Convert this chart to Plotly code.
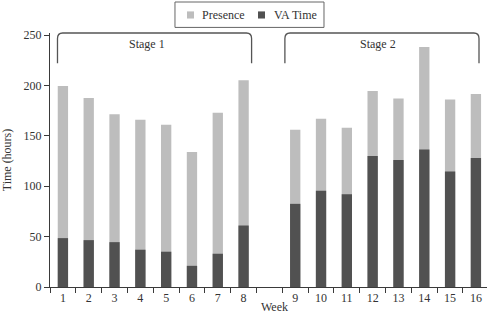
import plotly.graph_objects as go

# ---- data ----
weeks = ["1", "2", "3", "4", "5", "6", "7", "8",
         "9", "10", "11", "12", "13", "14", "15", "16"]
presence_hours = [199.5, 187.5, 171.5, 166, 161, 134, 173, 205,
                  156, 167, 158, 194.5, 187, 238, 186, 191.5]
va_time_hours = [48.5, 46.5, 44.5, 37, 35, 21, 33, 61,
                 82.5, 95.5, 92, 130, 126, 136.5, 114.5, 128]
series_names = ["Presence", "VA Time"]
stage_labels = ["Stage 1", "Stage 2"]
y_tick_values = [0, 50, 100, 150, 200, 250]
x_title = "Week"
y_title = "Time (hours)"

# ---- layout helpers ----
GAP_AFTER = 8  # an empty slot separates the two stages
pos = [i if i < GAP_AFTER else i + 1 for i in range(len(weeks))]
boundaries = [k - 0.5 for k in range(len(weeks) + 2)]

FONT = "Liberation Serif"
TXT = "#333333"
LIGHT = "#bdbdbd"
DARK = "#515151"
AXIS = "#3a3a3a"
BAR_W = 0.4
colors = [LIGHT, DARK]

fig = go.Figure()
for vals, name, col in zip([presence_hours, va_time_hours], series_names, colors):
    fig.add_bar(x=pos, y=vals, width=BAR_W, name=name,
                marker=dict(color=col, line=dict(width=0)), showlegend=False)

# stage brackets
stage_spans = [(pos[0] - 0.21, pos[7] + 0.31), (pos[8] - 0.4, pos[15] + 0.12)]
stage_text_x = [3.25, 12.2]


def bracket(x0, x1, yb=0.881, yt=1.0, rx=0.2, ry=0.022):
    return (f"M {x0},{yb} L {x0},{yt - ry} Q {x0},{yt} {x0 + rx},{yt} "
            f"L {x1 - rx},{yt} Q {x1},{yt} {x1},{yt - ry} L {x1},{yb}")


shapes = [dict(type="path", xref="x", yref="paper", path=bracket(a, b),
               line=dict(color="#555555", width=1.3))
          for a, b in stage_spans]
annotations = [dict(x=x, y=241, xref="x", yref="y", text=t, showarrow=False,
                    font=dict(family=FONT, size=12, color=TXT))
               for x, t in zip(stage_text_x, stage_labels)]

# compact legend box (paper coordinates), laid out like the reference
shapes.append(dict(type="rect", xref="paper", yref="paper",
                   x0=0.286, x1=0.627, y0=1.022, y1=1.122,
                   line=dict(color="#666666", width=1), fillcolor="white", layer="above"))
legend_sw_x = [0.3135, 0.476]
legend_txt_x = [0.343, 0.508]
for sx, tx, name, col in zip(legend_sw_x, legend_txt_x, series_names, colors):
    shapes.append(dict(type="rect", xref="paper", yref="paper",
                       x0=sx, x1=sx + 0.016, y0=1.057, y1=1.085,
                       line=dict(width=0), fillcolor=col, layer="above"))
    annotations.append(dict(x=tx, y=1.071, xref="paper", yref="paper", text=name,
                            xanchor="left", yanchor="middle", showarrow=False,
                            font=dict(family=FONT, size=12, color=TXT)))

# x-axis label
annotations.append(dict(x=0.513, y=-0.078, xref="paper", yref="paper", text=x_title,
                        xanchor="center", yanchor="middle", showarrow=False,
                        font=dict(family=FONT, size=12, color=TXT)))

fig.update_layout(
    width=487, height=314,
    margin=dict(l=50, r=0, t=33, b=27),
    paper_bgcolor="white", plot_bgcolor="white",
    barmode="overlay", showlegend=False,
    font=dict(family=FONT, size=12, color=TXT),
    shapes=shapes, annotations=annotations,
    xaxis=dict(range=[-0.5, 16.43], tickmode="array", tickvals=pos, ticktext=weeks,
               ticks="", showline=True, linecolor=AXIS, linewidth=1,
               showgrid=False, zeroline=False, automargin=False,
               tickfont=dict(family=FONT, size=12, color=TXT),
               minor=dict(tickmode="array", tickvals=boundaries, ticks="outside",
                          ticklen=5, tickcolor=AXIS, tickwidth=1, showgrid=False)),
    yaxis=dict(range=[0, 252], tickmode="array", tickvals=y_tick_values,
               ticks="outside", ticklen=5, tickcolor=AXIS, showline=True,
               linecolor=AXIS, linewidth=1, showgrid=False, zeroline=False,
               automargin=False,
               tickfont=dict(family=FONT, size=12, color=TXT),
               title=dict(text=y_title, standoff=10,
                          font=dict(family=FONT, size=12, color=TXT))),
)

fig.write_html("out.html")
